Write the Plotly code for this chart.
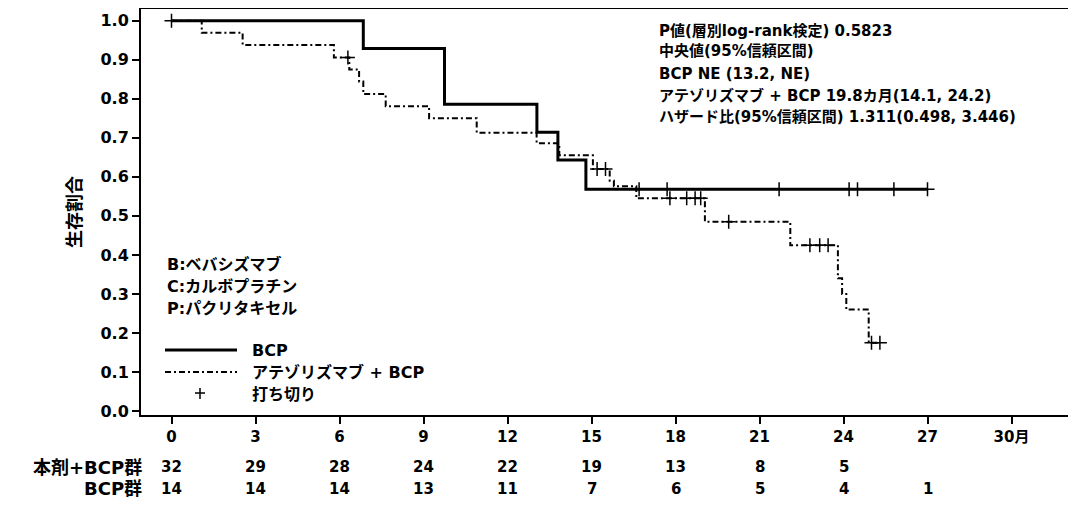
import plotly.graph_objects as go

# ---------------- data ----------------
months_ticks = [0, 3, 6, 9, 12, 15, 18, 21, 24, 27, 30]
month_labels = ["0", "3", "6", "9", "12", "15", "18", "21", "24", "27", "30月"]
surv_ticks = [0.0, 0.1, 0.2, 0.3, 0.4, 0.5, 0.6, 0.7, 0.8, 0.9, 1.0]
surv_labels = ["0.0", "0.1", "0.2", "0.3", "0.4", "0.5", "0.6", "0.7", "0.8", "0.9", "1.0"]

# BCP group (solid)
bcp_t = [0, 6.85, 9.75, 13.05, 13.8, 14.8, 27.0]
bcp_s = [1.0, 0.929, 0.786, 0.714, 0.643, 0.568, 0.568]
bcp_cens_t = [16.7, 17.7, 21.7, 24.2, 24.5, 25.8, 27.0]
bcp_cens_s = [0.568, 0.568, 0.568, 0.568, 0.568, 0.568, 0.568]

# Atezolizumab + BCP group (dash-dot)
atz_t = [0, 1.08, 2.54, 5.8, 6.35, 6.7, 6.85, 7.65, 9.2, 10.9, 13.04, 13.85,
         15.05, 15.65, 15.8, 16.6, 19.05, 22.1, 23.8, 23.95, 24.1, 24.9, 25.3]
atz_s = [1.0, 0.969, 0.938, 0.906, 0.875, 0.844, 0.812, 0.781, 0.75, 0.713, 0.686, 0.655,
         0.62, 0.59, 0.576, 0.545, 0.485, 0.425, 0.34, 0.30, 0.26, 0.175, 0.175]
atz_cens_t = [0.0, 6.3, 15.2, 15.5, 17.8, 18.4, 18.7, 18.9, 19.9, 22.8, 23.15, 23.45, 25.0, 25.3]
atz_cens_s = [1.0, 0.906, 0.62, 0.62, 0.545, 0.545, 0.545, 0.545, 0.485, 0.425, 0.425, 0.425, 0.175, 0.175]

# number at risk
risk_times_atz = [0, 3, 6, 9, 12, 15, 18, 21, 24]
risk_atz = [32, 29, 28, 24, 22, 19, 13, 8, 5]
risk_times_bcp = [0, 3, 6, 9, 12, 15, 18, 21, 24, 27]
risk_bcp = [14, 14, 14, 13, 11, 7, 6, 5, 4, 1]
risk_row_labels = ["本剤+BCP群", "BCP群"]

stats_lines = [
    "P値(層別log-rank検定) 0.5823",
    "中央値(95%信頼区間)",
    "BCP NE (13.2, NE)",
    "アテゾリズマブ + BCP 19.8カ月(14.1, 24.2)",
    "ハザード比(95%信頼区間) 1.311(0.498, 3.446)",
]
abbrev_lines = ["B:ベバシズマブ", "C:カルボプラチン", "P:パクリタキセル"]
legend_labels = ["BCP", "アテゾリズマブ + BCP", "打ち切り"]
y_title = "生存割合"

# ---------------- layout helpers (page-pixel geometry) ----------------
OFF = 8                      # default body margin of the html page
PW, PH = 1076, 511           # page (window) size
W, H = PW - OFF, PH - OFF    # figure size
L, R, T, B = 141, 1076, 9, 415   # plot area in page pixels
FONT = "DejaVu Sans, Noto Sans CJK JP"


def xp(px):
    return (px - L) / (R - L)


def yp(py):
    return (B - py) / (B - T)


DASH = "6px,3px,2px,3px"

fig = go.Figure()
fig.add_trace(go.Scatter(x=bcp_t, y=bcp_s, mode="lines",
                         line=dict(shape="hv", color="black", width=3), showlegend=False,
                         hoverinfo="skip"))
fig.add_trace(go.Scatter(x=atz_t, y=atz_s, mode="lines",
                         line=dict(shape="hv", color="black", width=2, dash=DASH), showlegend=False,
                         hoverinfo="skip"))
for ct, cs in ((bcp_cens_t, bcp_cens_s), (atz_cens_t, atz_cens_s)):
    fig.add_trace(go.Scatter(x=ct, y=cs, mode="markers",
                             marker=dict(symbol="cross-thin", size=10, color="black",
                                         line=dict(color="black", width=1.5)),
                             showlegend=False, hoverinfo="skip"))

annotations = []
statfont = dict(family=FONT, size=15, color="black", weight="bold")
legfont = dict(family=FONT, size=16, color="black", weight="bold")

# stats text, top right
stats_y = [31, 51, 74, 96, 117]
for s, py in zip(stats_lines, stats_y):
    annotations.append(dict(x=xp(657), y=yp(py), xref="paper", yref="paper", text=s,
                            showarrow=False, xanchor="left", yanchor="middle", font=statfont))

# abbreviations
for s, py in zip(abbrev_lines, [264, 286, 308]):
    annotations.append(dict(x=xp(165), y=yp(py), xref="paper", yref="paper", text=s,
                            showarrow=False, xanchor="left", yanchor="middle", font=legfont))

# legend texts
for s, py in zip(legend_labels, [350, 372, 394]):
    annotations.append(dict(x=xp(250), y=yp(py), xref="paper", yref="paper", text=s,
                            showarrow=False, xanchor="left", yanchor="middle", font=legfont))

# risk table
riskfont = dict(family=FONT, size=15, color="black", weight="bold")
labfont = dict(family=FONT, size=18, color="black", weight="bold")
for tt, n in zip(risk_times_atz, risk_atz):
    annotations.append(dict(x=tt, y=yp(467), xref="x", yref="paper", text=str(n),
                            showarrow=False, xanchor="center", yanchor="middle", font=riskfont))
for tt, n in zip(risk_times_bcp, risk_bcp):
    annotations.append(dict(x=tt, y=yp(489), xref="x", yref="paper", text=str(n),
                            showarrow=False, xanchor="center", yanchor="middle", font=riskfont))
for s, py in zip(risk_row_labels, [467, 489]):
    annotations.append(dict(x=xp(144), y=yp(py), xref="paper", yref="paper", text=s,
                            showarrow=False, xanchor="right", yanchor="middle", font=labfont))

shapes = [
    dict(type="line", xref="paper", yref="paper", x0=xp(165), x1=xp(237), y0=yp(350), y1=yp(350),
         line=dict(color="black", width=3)),
    dict(type="line", xref="paper", yref="paper", x0=xp(165), x1=xp(237), y0=yp(372), y1=yp(372),
         line=dict(color="black", width=2, dash=DASH)),
    dict(type="line", xref="paper", yref="paper", x0=xp(200), x1=xp(200), y0=yp(388), y1=yp(399),
         line=dict(color="black", width=1.5)),
    dict(type="line", xref="paper", yref="paper", x0=xp(195), x1=xp(205), y0=yp(393), y1=yp(393),
         line=dict(color="black", width=1.5)),
]

xtickfont = dict(family=FONT, size=15, color="black", weight="bold")
ytickfont = dict(family=FONT, size=16, color="black", weight="bold")
fig.update_layout(
    width=W, height=H,
    margin=dict(l=L - OFF, r=PW - R, t=T - OFF, b=PH - B, pad=0),
    paper_bgcolor="white", plot_bgcolor="white",
    annotations=annotations, shapes=shapes,
    xaxis=dict(range=[(L - 171.5) / 28.0, (R - 171.5) / 28.0], tickvals=months_ticks,
               ticktext=month_labels, ticks="outside", ticklen=7, tickwidth=1.5,
               tickcolor="black", showline=True, linecolor="black", linewidth=2, mirror=True,
               showgrid=False, zeroline=False, tickfont=xtickfont),
    yaxis=dict(range=[-0.0102, 1.030], tickvals=surv_ticks, ticktext=surv_labels,
               ticks="outside", ticklen=7, tickwidth=1.5, tickcolor="black",
               showline=True, linecolor="black", linewidth=2, showgrid=False, zeroline=False,
               tickfont=ytickfont,
               title=dict(text=y_title, font=dict(family=FONT, size=18, color="black", weight="bold"),
                          standoff=14)),
    font=dict(family=FONT, color="black"),
)

fig.write_html("out.html")
